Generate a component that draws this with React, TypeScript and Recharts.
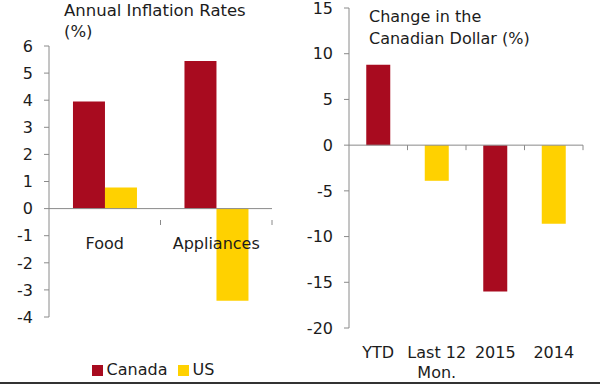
import React from 'react';
import { BarChart, Bar, XAxis, YAxis, Cell, ReferenceLine, Legend } from 'recharts';

// Left panel: annual inflation rates (%)
const inflationCategories = ['Food', 'Appliances'];
const canadaInflation = [3.95, 5.45];
const usInflation = [0.78, -3.4];
const inflationTicks = [-4, -3, -2, -1, 0, 1, 2, 3, 4, 5, 6];

// Right panel: change in the Canadian dollar (%)
const cadPeriods = ['YTD', 'Last 12\nMon.', '2015', '2014'];
const cadChange = [8.8, -3.9, -16.0, -8.6];
const cadTicks = [-20, -15, -10, -5, 0, 5, 10, 15];

const RED = '#A80B1F';
const YELLOW = '#FFD100';
const AXIS = '#8a8a8a';
const TEXT = '#1c1c1c';
const FONT = '"DejaVu Sans", Verdana, sans-serif';

const inflationData = inflationCategories.map((name, i) => ({
  name,
  Canada: canadaInflation[i],
  US: usInflation[i],
}));

const cadData = cadPeriods.map((name, i) => ({ name, value: cadChange[i] }));
const cadColors = [RED, YELLOW, RED, YELLOW];

const AXIS_H = 30;

// boundary tick on the zero line + category label (under zero or at the bottom)
const renderZeroTick = (zeroY: number, labelY: number, band: number) => (props: any) => {
  const { x, payload } = props;
  const lines = String(payload.value).split('\n');
  return (
    <g>
      <line x1={x + band / 2} x2={x + band / 2} y1={zeroY} y2={zeroY + 5} stroke={AXIS} />
      <text x={x} y={labelY} textAnchor="middle" fill={TEXT} fontSize={16} fontFamily={FONT}>
        {lines.map((l, i) => (
          <tspan key={i} x={x} dy={i === 0 ? 0 : 20}>
            {l}
          </tspan>
        ))}
      </text>
    </g>
  );
};

// value label, pushed further left of the tick than the default
const renderYTick = (axisX: number) => (props: any) => {
  const { y, payload } = props;
  return (
    <text x={axisX - 16} y={y} dy="0.36em" textAnchor="end" fill={TEXT} fontSize={16} fontFamily={FONT}>
      {payload.value}
    </text>
  );
};

const LeftPanel = () => {
  const top = 46;
  const plotH = 290;
  const left = 49;
  const plotW = 223;
  const zeroY = top + (plotH * 6) / 10;
  return (
    <BarChart
      width={290}
      height={384}
      data={inflationData}
      margin={{ top, right: 290 - left - plotW, left: 0, bottom: 384 - top - plotH - AXIS_H }}
      barCategoryGap="21.5%"
      barGap={0}
    >
      <XAxis
        dataKey="name"
        height={AXIS_H}
        axisLine={false}
        tickLine={false}
        interval={0}
        tick={renderZeroTick(zeroY, zeroY + 29, plotW / inflationCategories.length)}
      />
      <YAxis
        width={left}
        domain={[-4, 6]}
        ticks={inflationTicks}
        interval={0}
        stroke={AXIS}
        tickSize={5}
        tick={renderYTick(left)}
      />
      <ReferenceLine y={0} stroke={AXIS} />
      <Legend
        verticalAlign="bottom"
        iconType="square"
        iconSize={11}
        wrapperStyle={{ bottom: 5, left: 22, fontFamily: FONT, fontSize: 16 }}
        formatter={(v: string) => <span style={{ color: TEXT }}>{v}</span>}
      />
      <Bar dataKey="Canada" fill={RED} isAnimationActive={false} />
      <Bar dataKey="US" fill={YELLOW} isAnimationActive={false} />
    </BarChart>
  );
};

const RightPanel = () => {
  const top = 8;
  const plotH = 320;
  const left = 49;
  const plotW = 234;
  const zeroY = top + (plotH * 15) / 35;
  return (
    <BarChart
      width={300}
      height={384}
      data={cadData}
      margin={{ top, right: 300 - left - plotW, left: 0, bottom: 384 - top - plotH - AXIS_H }}
      barCategoryGap="29.5%"
    >
      <XAxis
        dataKey="name"
        height={AXIS_H}
        axisLine={false}
        tickLine={false}
        interval={0}
        tick={renderZeroTick(zeroY, top + plotH + 30, plotW / cadPeriods.length)}
      />
      <YAxis
        width={left}
        domain={[-20, 15]}
        ticks={cadTicks}
        interval={0}
        stroke={AXIS}
        tickSize={5}
        tick={renderYTick(left)}
      />
      <ReferenceLine y={0} stroke={AXIS} />
      <Bar dataKey="value" isAnimationActive={false}>
        {cadData.map((d, i) => (
          <Cell key={d.name} fill={cadColors[i]} />
        ))}
      </Bar>
    </BarChart>
  );
};

export default function App() {
  return (
    <div
      style={{
        position: 'fixed',
        left: 0,
        top: 0,
        width: 600,
        height: 384,
        background: '#fff',
        fontFamily: FONT,
        color: TEXT,
        overflow: 'hidden',
      }}
    >
      <div style={{ position: 'absolute', left: 0, top: 0 }}>
        <LeftPanel />
      </div>
      <div style={{ position: 'absolute', left: 300, top: 0 }}>
        <RightPanel />
      </div>
      <div style={{ position: 'absolute', left: 64, top: 0, fontSize: 16.5, lineHeight: '21px' }}>
        Annual Inflation Rates
        <br />
        (%)
      </div>
      <div style={{ position: 'absolute', left: 369, top: 6, fontSize: 16, lineHeight: '22px' }}>
        Change in the
        <br />
        Canadian Dollar (%)
      </div>
      <div style={{ position: 'absolute', left: 0, top: 382, width: 600, height: 2, background: '#333' }} />
    </div>
  );
}
